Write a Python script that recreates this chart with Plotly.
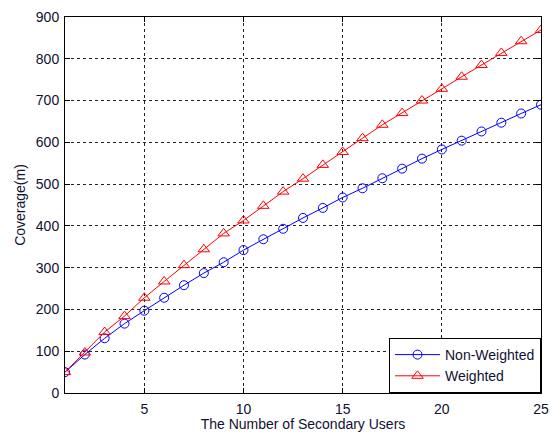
import plotly.graph_objects as go

users = list(range(1, 26))
non_weighted = [50, 92, 131, 166, 197, 228, 258, 287, 313, 342, 368, 393, 419,
                443, 468, 490, 514, 537, 561, 583, 604, 626, 647, 669, 690]
weighted = [50, 97, 146, 184, 228, 267, 306, 344, 382, 413, 448, 482, 513,
            546, 577, 610, 642, 670, 700, 728, 757, 785, 814, 842, 869]

x_ticks = [5, 10, 15, 20, 25]
y_ticks = [0, 100, 200, 300, 400, 500, 600, 700, 800, 900]

FONT = "Arial, Liberation Sans, sans-serif"

fig = go.Figure()
fig.add_trace(go.Scatter(
    x=users, y=non_weighted, name="Non-Weighted", mode="lines+markers",
    line=dict(color="#0000ff", width=1),
    marker=dict(symbol="circle-open", size=9, color="#0000ff", line=dict(width=1)),
))
fig.add_trace(go.Scatter(
    x=users, y=weighted, name="Weighted", mode="lines+markers",
    line=dict(color="#ff0000", width=1),
    marker=dict(symbol="triangle-up-open", size=10, color="#ff0000", line=dict(width=1)),
))

axis_common = dict(
    showline=True, linecolor="black", linewidth=1, mirror="ticks",
    ticks="inside", ticklen=5, tickcolor="black",
    showgrid=True, gridcolor="#222222", griddash="3px,3px", gridwidth=1,
    zeroline=False, automargin=False,
    tickfont=dict(family=FONT, size=14, color="#111133"),
    title_font=dict(family=FONT, size=14, color="#111133"),
)

fig.update_layout(
    width=553, height=432,
    margin=dict(l=65, r=12, t=17, b=39),
    paper_bgcolor="white", plot_bgcolor="white",
    showlegend=True,
    legend=dict(
        x=1, y=0, xanchor="right", yanchor="bottom",
        bordercolor="black", borderwidth=1, bgcolor="white",
        font=dict(family=FONT, size=14, color="#111133"),
        tracegroupgap=0, itemwidth=45,
    ),
    xaxis=dict(range=[1, 25], tickvals=x_ticks, ticklabelstandoff=3,
               title=dict(text="The Number of Secondary Users", standoff=2),
               **axis_common),
    yaxis=dict(range=[0, 900], tickvals=y_ticks, ticklabelstandoff=2,
               title=dict(text="Coverage(m)", standoff=6),
               **axis_common),
)

fig.write_html("out.html", config={"displayModeBar": False},
               post_script="document.body.style.margin='0';")
